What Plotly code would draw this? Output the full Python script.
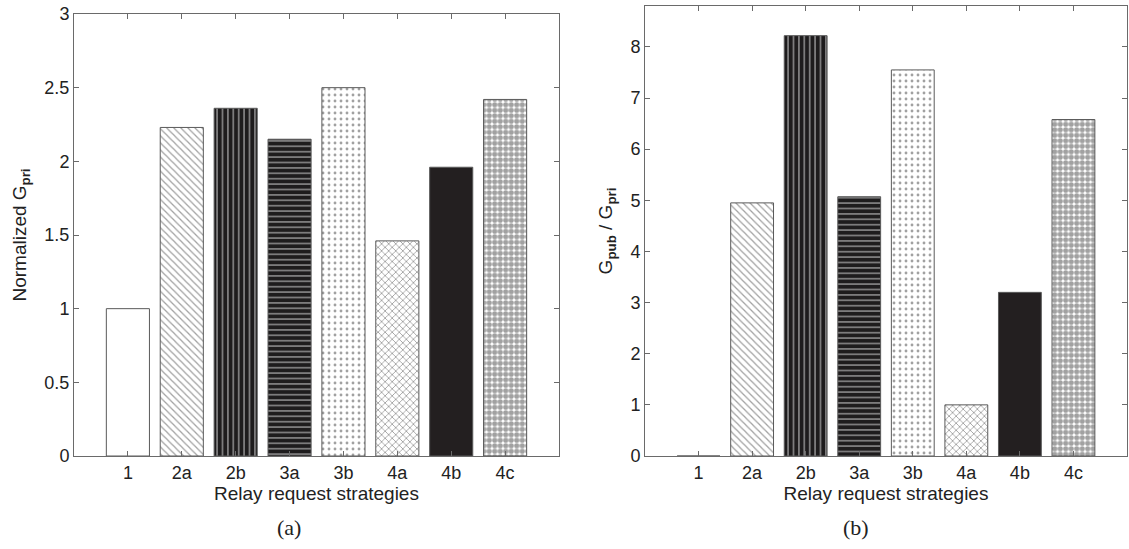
import plotly.graph_objects as go

categories = ["1", "2a", "2b", "3a", "3b", "4a", "4b", "4c"]
normalized_gpri = [1.00, 2.23, 2.36, 2.15, 2.50, 1.46, 1.96, 2.42]
gpub_over_gpri = [0.0, 4.95, 8.22, 5.07, 7.55, 1.00, 3.20, 6.58]
left_yticks = [0, 0.5, 1, 1.5, 2, 2.5, 3]
right_yticks = [0, 1, 2, 3, 4, 5, 6, 7, 8]

positions = list(range(1, len(categories) + 1))

# per-bar styles (MATLAB-like hatch fills)
shapes = ["", "\\", "|", "-", ".", "x", "", "."]
fg = ["#ffffff", "#4a4a4a", "#b0b0b0", "#b0b0b0", "#000000", "#333333", "#231f20", "#000000"]
bg = ["#ffffff", "#ffffff", "#1e1c1d", "#1e1c1d", "#ffffff", "#ffffff", "#231f20", "#ffffff"]
psize = [6, 5, 5.4, 5.4, 6, 5, 6, 5.5]
solid = [0.2, 0.25, 0.28, 0.28, 0.18, 0.32, 0.2, 0.7]

def bar(y, xa, ya):
    return go.Bar(
        x=positions, y=y, width=0.8, xaxis=xa, yaxis=ya,
        marker=dict(
            color=bg,
            line=dict(color="#5a5a5a", width=1),
            pattern=dict(shape=shapes, fgcolor=fg, bgcolor=bg, size=psize,
                         solidity=solid, fillmode="overlay"),
        ),
        showlegend=False, hoverinfo="x+y",
    )

fig = go.Figure()
fig.add_trace(bar(normalized_gpri, "x", "y"))
fig.add_trace(bar(gpub_over_gpri, "x2", "y2"))

W, H = 1129, 549
FONT = "Liberation Sans, Arial"
axis_common = dict(showline=True, linecolor="#6a6a6a", linewidth=1, mirror="ticks",
                   ticks="inside", ticklen=5, tickcolor="#6a6a6a", showgrid=False,
                   zeroline=False, automargin=False,
                   tickfont=dict(family=FONT, size=18, color="#222"))

fig.update_layout(
    width=W, height=H, margin=dict(l=0, r=0, t=0, b=0, autoexpand=False),
    paper_bgcolor="white", plot_bgcolor="white",
    font=dict(family=FONT, color="#222"),
    xaxis=dict(domain=[74 / W, 559 / W], range=[0, 9], tickvals=positions, ticktext=categories,
               anchor="y",
               title=dict(text="Relay request strategies", font=dict(size=19), standoff=0),
               **axis_common),
    yaxis=dict(domain=[(H - 456) / H, (H - 14) / H], range=[0, 3], tickvals=left_yticks,
               anchor="x",
               title=dict(text="Normalized G<sub><b>pri</b></sub>", font=dict(size=19), standoff=12),
               **axis_common),
    xaxis2=dict(domain=[645 / W, 1127 / W], range=[0, 9], tickvals=positions, ticktext=categories,
                anchor="y2",
                title=dict(text="Relay request strategies", font=dict(size=19), standoff=0),
                **axis_common),
    yaxis2=dict(domain=[(H - 456) / H, (H - 6) / H], range=[0, 8.8], tickvals=right_yticks,
                anchor="x2",
                title=dict(text="G<sub><b>pub</b></sub> / G<sub><b>pri</b></sub>", font=dict(size=19), standoff=12),
                **axis_common),
    bargap=0.2,
)

for label, cx in (("(a)", (74 + 559) / 2 - 28), ("(b)", (645 + 1127) / 2 - 30)):
    fig.add_annotation(text=label, x=cx / W, y=(H - 527) / H, xref="paper", yref="paper",
                       xanchor="center", yanchor="middle", showarrow=False,
                       font=dict(family="Liberation Serif, Times New Roman", size=22, color="#222"))

fig.write_html("out.html")
